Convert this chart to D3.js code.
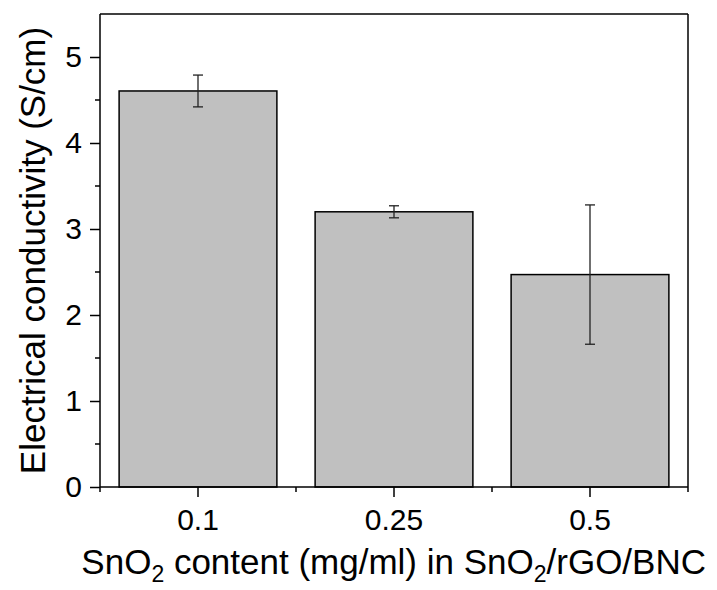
<!DOCTYPE html>
<html>
<head>
<meta charset="utf-8">
<script src="https://cdn.jsdelivr.net/npm/d3@7"></script>
<style>
  html, body { margin: 0; padding: 0; background: #fff; }
  svg { display: block; font-family: "Liberation Sans", Arial, sans-serif; }
</style>
</head>
<body>
<svg id="chart" width="717" height="590"></svg>
<script>
// Data
const categories = ["0.1", "0.25", "0.5"];
const conductivity = [4.605, 3.20, 2.47];
const errors = [0.185, 0.07, 0.81];
const yTicks = [0, 1, 2, 3, 4, 5];
const yMinorTicks = [0.5, 1.5, 2.5, 3.5, 4.5];

(function () {
const svg = d3.select("#chart");
const mLeft = 100, mRight = 688, mTop = 14, mBottom = 487;

const x = d3.scaleBand().domain(categories).range([mLeft, mRight]).padding(0);
const y = d3.scaleLinear().domain([0, 5.5]).range([mBottom, mTop]);
const barW = x.bandwidth() * 0.805;

// Bars
svg.append("g").selectAll("rect")
  .data(categories)
  .join("rect")
  .attr("x", (d) => x(d) + (x.bandwidth() - barW) / 2)
  .attr("y", (d, i) => y(conductivity[i]))
  .attr("width", barW)
  .attr("height", (d, i) => y(0) - y(conductivity[i]))
  .attr("fill", "#c0c0c0")
  .attr("stroke", "#000")
  .attr("stroke-width", 1.5);

// Error bars
const eg = svg.append("g").attr("stroke", "#222").attr("stroke-width", 1.3);
categories.forEach((c, i) => {
  const cx = x(c) + x.bandwidth() / 2;
  const hi = y(conductivity[i] + errors[i]);
  const lo = y(conductivity[i] - errors[i]);
  eg.append("line").attr("x1", cx).attr("x2", cx).attr("y1", hi).attr("y2", lo);
  eg.append("line").attr("x1", cx - 5).attr("x2", cx + 5).attr("y1", hi).attr("y2", hi);
  eg.append("line").attr("x1", cx - 5).attr("x2", cx + 5).attr("y1", lo).attr("y2", lo);
});

// Frame (top and right)
svg.append("line").attr("x1", mLeft).attr("x2", mRight).attr("y1", mTop).attr("y2", mTop)
  .attr("stroke", "#000").attr("stroke-width", 1.5);
svg.append("line").attr("x1", mRight).attr("x2", mRight).attr("y1", mTop).attr("y2", mBottom)
  .attr("stroke", "#000").attr("stroke-width", 1.5);

// Y axis
const yAxis = svg.append("g").attr("transform", `translate(${mLeft},0)`)
  .call(d3.axisLeft(y).tickValues(yTicks).tickFormat(d3.format("d")).tickSize(10).tickPadding(8));
yAxis.select(".domain").attr("stroke-width", 1.5).attr("d", `M0,${mTop}V${mBottom}`);
yAxis.selectAll(".tick line").attr("stroke-width", 1.5);
yAxis.selectAll(".tick text").attr("font-size", 30).attr("fill", "#000")
  .attr("font-family", "Liberation Sans, Arial, sans-serif");
svg.append("g").selectAll("line").data(yMinorTicks).join("line")
  .attr("x1", mLeft - 5).attr("x2", mLeft).attr("y1", (d) => y(d)).attr("y2", (d) => y(d))
  .attr("stroke", "#000").attr("stroke-width", 1.5);

// X axis
const xAxis = svg.append("g").attr("transform", `translate(0,${mBottom})`)
  .call(d3.axisBottom(x).tickSize(10).tickPadding(12));
xAxis.select(".domain").attr("stroke-width", 1.5).attr("d", `M${mLeft},0H${mRight}`);
xAxis.selectAll(".tick line").attr("stroke-width", 1.5);
xAxis.selectAll(".tick text").attr("font-size", 30).attr("fill", "#000")
  .attr("font-family", "Liberation Sans, Arial, sans-serif");
const xMinor = categories.map((c) => x(c)).concat([x(categories[categories.length - 1]) + x.bandwidth()]);
svg.append("g").selectAll("line").data(xMinor).join("line")
  .attr("x1", (d) => d).attr("x2", (d) => d).attr("y1", mBottom).attr("y2", mBottom + 5)
  .attr("stroke", "#000").attr("stroke-width", 1.5);

// Axis titles
const xt = svg.append("text")
  .attr("x", 706).attr("y", 574)
  .attr("text-anchor", "end").attr("font-size", 35).attr("fill", "#000");
xt.append("tspan").text("SnO");
xt.append("tspan").attr("font-size", 23).attr("dy", 8).text("2");
xt.append("tspan").attr("dy", -8).text(" content (mg/ml) in SnO");
xt.append("tspan").attr("font-size", 23).attr("dy", 8).text("2");
xt.append("tspan").attr("dy", -8).text("/rGO/BNC");

svg.append("text")
  .attr("transform", `translate(45,${(mTop + mBottom) / 2}) rotate(-90)`)
  .attr("text-anchor", "middle").attr("font-size", 35).attr("fill", "#000")
  .text("Electrical conductivity (S/cm)");
})();
</script>
</body>
</html>
